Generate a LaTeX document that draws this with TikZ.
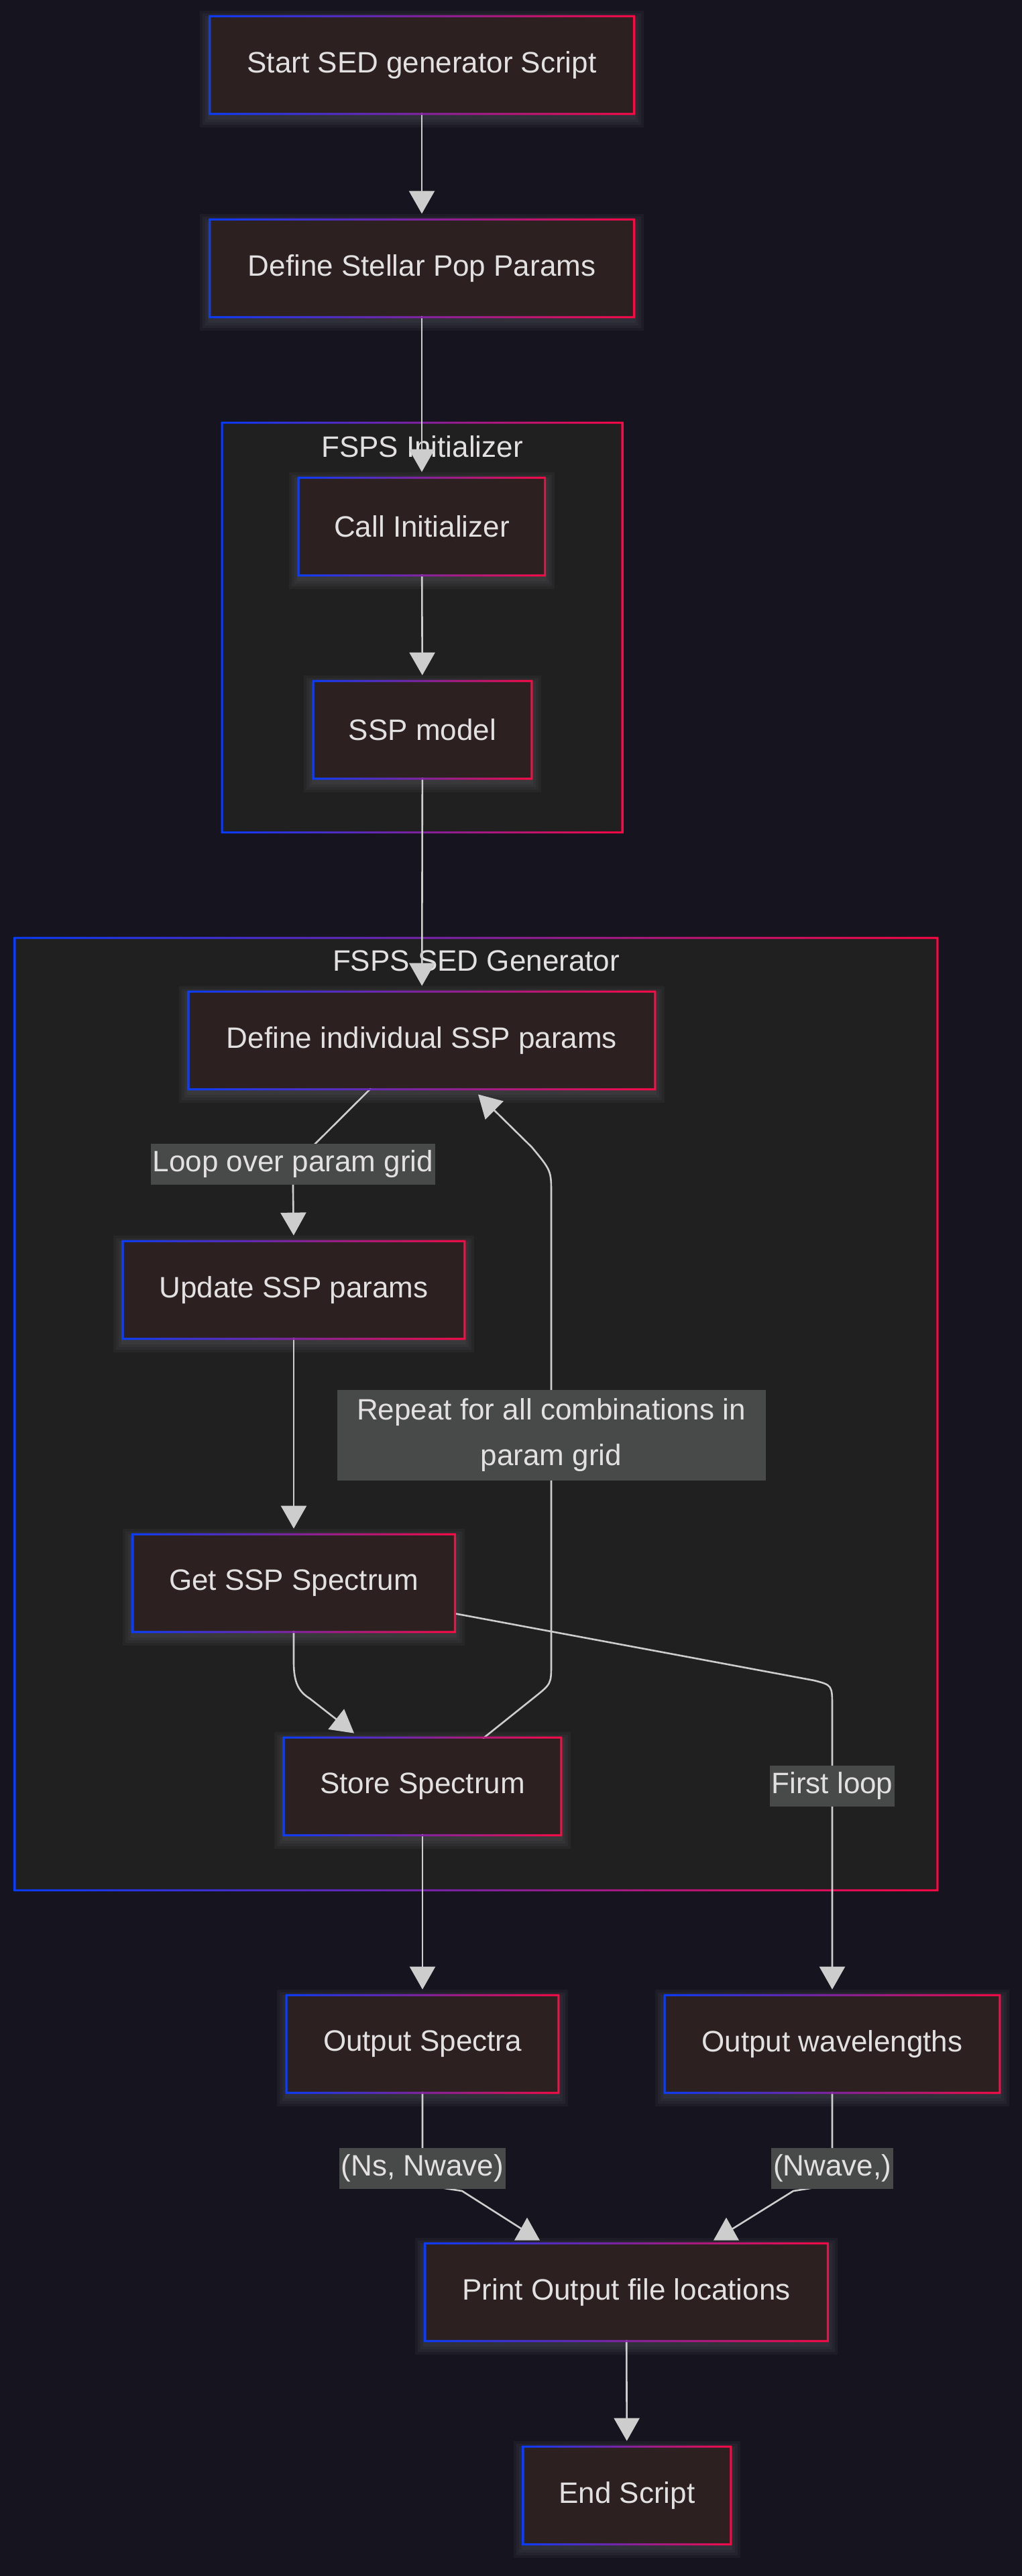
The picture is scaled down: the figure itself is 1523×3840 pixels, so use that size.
\documentclass[tikz,border=0pt]{standalone}
\usepackage{fontspec}
\setmainfont{Liberation Sans}
\usetikzlibrary{arrows.meta,calc}
\definecolor{bgc}{HTML}{16151F}
\definecolor{clfill}{HTML}{202020}
\definecolor{nfill}{HTML}{2C2020}
\definecolor{gblue}{HTML}{0A3CFF}
\definecolor{gred}{HTML}{FF0845}
\definecolor{txt}{HTML}{E2E0E0}
\definecolor{edgec}{HTML}{CDCDCD}
\definecolor{lblbg}{HTML}{484A49}
\definecolor{glow}{HTML}{9A9AA8}
\pgfdeclarelayer{bg}
\pgfdeclarelayer{shadowlayer}
\pgfdeclarelayer{edgelayer}
\pgfsetlayers{bg,shadowlayer,edgelayer,main}
\newcommand\diafont{\fontsize{22}{34}\selectfont}
\newcommand\gradframe[1]{%
  \shade[left color=gblue,right color=gred,even odd rule]
    ($(#1.north west)+(-1.5pt,1.5pt)$) rectangle ($(#1.south east)+(1.5pt,-1.5pt)$)
    (#1.north west) rectangle (#1.south east);}
\newcommand\glowbox[1]{%
  \begin{pgfonlayer}{shadowlayer}
  \foreach \g in {2,4,6,8}{\fill[glow,opacity=0.06] ($(#1.north west)+(-\g pt,-3pt+\g pt)$) rectangle ($(#1.south east)+(\g pt,-3pt-\g pt)$);}
  \end{pgfonlayer}}
\tikzset{
  box/.style={rectangle, fill=nfill, text=txt, font=\diafont, minimum height=71pt, inner sep=0pt},
  cluster/.style={rectangle, fill=clfill, inner sep=0pt},
  ctitle/.style={text=txt, font=\diafont, inner sep=0pt, anchor=base},
  elabel/.style={fill=lblbg, text=txt, font=\diafont, inner xsep=1.5pt, inner ysep=0pt, minimum height=30.5pt},
  plainconn/.style={draw=edgec, line width=1.3pt},
  conn/.style={plainconn, -{Triangle[length=17pt,width=19pt]}, shorten >=5pt},
  exactconn/.style={conn, shorten >=0pt},
  tipfill/.style={fill=edgec},
}
\begin{document}
\begin{tikzpicture}[x=0.5pt,y=-0.5pt]
\useasboundingbox (0,0) rectangle (1523,3840);
\begin{pgfonlayer}{bg}
\fill[bgc] (-10,-10) rectangle (1535,3850);
\node[cluster, minimum width=296.5pt, minimum height=303.5pt] (clinit) at (629.5,935.5) {};
\gradframe{clinit}
\node[ctitle] (tinit) at (629.5,681) {FSPS Initializer};
\node[cluster, minimum width=686pt, minimum height=708pt] (clsed) at (710,2108) {};
\gradframe{clsed}
\node[ctitle] (tsed) at (710,1447) {FSPS SED Generator};
\end{pgfonlayer}

\node[box, minimum width=314.5pt] (start) at (629,97) {Start SED generator Script};
\node[box, minimum width=314.5pt] (defpop) at (629,400) {Define Stellar Pop Params};
\node[box, minimum width=182pt] (callinit) at (629,785) {Call Initializer};
\node[box, minimum width=161pt] (ssp) at (630,1088) {SSP model};
\node[box, minimum width=346pt] (defind) at (629,1551) {Define individual SSP params};
\node[box, minimum width=253pt] (update) at (438,1923) {Update SSP params};
\node[box, minimum width=238.5pt] (getssp) at (438,2360) {Get SSP Spectrum};
\node[box, minimum width=205pt] (store) at (630,2663) {Store Spectrum};
\node[box, minimum width=201pt] (outspec) at (630,3047) {Output Spectra};
\node[box, minimum width=248pt] (outwl) at (1241,3047) {Output wavelengths};
\node[box, minimum width=298.5pt] (print) at (934,3417) {Print Output file locations};
\node[box, minimum width=153pt] (endn) at (935,3720) {End Script};

\foreach \n in {start,defpop,callinit,ssp,defind,update,getssp,store,outspec,outwl,print,endn}{\gradframe{\n}\glowbox{\n}}

\node[elabel] (lloop) at (437,1735) {Loop over param grid};
\node[elabel, align=center, minimum width=319.5pt, minimum height=67.5pt] (lrep) at (822,2139) {Repeat for all combinations in\\param grid};
\node[elabel] (lfirst) at (1241,2662) {First loop};
\node[elabel] (lns) at (630,3232) {(Ns, Nwave)};
\node[elabel] (lnw) at (1241,3232) {(Nwave,)};

\begin{pgfonlayer}{edgelayer}
\draw[conn] (start) -- (defpop);
\draw[conn] (defpop) -- (callinit);
\draw[conn] (callinit) -- (ssp);
\draw[conn] (ssp) -- (defind);
\draw[conn] ($(defind.south)+(-76,0)$) -- ($(lloop.center)+(33,-30)$) .. controls ($(lloop.center)+(0,3)$) .. ($(lloop.center)+(0,40)$) -- (update.north);
\draw[conn] (update) -- (getssp);
\draw[exactconn] (getssp.south) -- ++(0,46) .. controls +(0,32) and (446,2522) .. (462,2532) -- ($(store.north)+(-102,-8)$);
\draw[exactconn] ($(store.north)+(90,0)$) -- (797,2530) .. controls (822,2510) .. (822,2480) -- (822,1780) .. controls (822,1745) .. (793,1710) -- ($(defind.south)+(84,9)$);
\draw[conn] ($(getssp.east)+(0,45)$) -- (1214,2505) .. controls (1241,2512) .. (1241,2545) -- (outwl.north);
\draw[conn] (store) -- (outspec);
\draw[plainconn] (outspec.south) -- (lns.center) .. controls ($(lns.center)+(0,25)$) .. ($(lns.center)+(59,34)$) -- ($(print.north)+(-156,-23)$);
\fill[tipfill] ($(print.north)+(-167,-6)$) -- ($(print.north)+(-129,-6)$) -- ($(print.north)+(-148,-40)$) -- cycle;
\draw[plainconn] (outwl.south) -- (lnw.center) .. controls ($(lnw.center)+(0,25)$) .. ($(lnw.center)+(-58,34)$) -- ($(print.north)+(158,-23)$);
\fill[tipfill] ($(print.north)+(130,-6)$) -- ($(print.north)+(168,-6)$) -- ($(print.north)+(149,-40)$) -- cycle;
\draw[conn] (print) -- (endn);
\end{pgfonlayer}
\end{tikzpicture}
\end{document}
